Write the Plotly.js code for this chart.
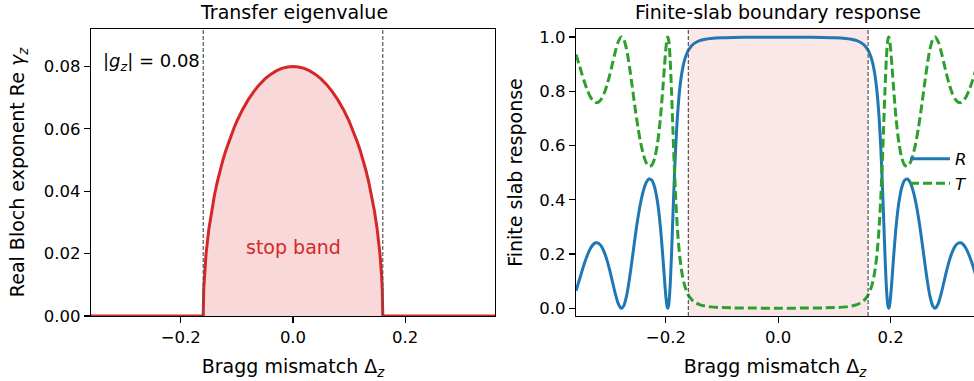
<!DOCTYPE html>
<html>
<head>
<meta charset="utf-8">
<script src="https://cdn.plot.ly/plotly-3.0.1.min.js"></script>
<style>html,body{margin:0;padding:0;background:#fff;}#chart{width:974px;height:381px;}</style>
</head>
<body>
<div id="chart"></div>
<script>
// Left panel: real Bloch exponent vs Bragg mismatch
const deltaLeft = [-0.36, -0.16, -0.159, -0.158, -0.155, -0.15, -0.145, -0.14, -0.135, -0.13, -0.125, -0.12, -0.115, -0.11, -0.105, -0.10, -0.09, -0.08, -0.07, -0.06, -0.05, -0.04, -0.03, -0.02, -0.01, 0,
  0.01, 0.02, 0.03, 0.04, 0.05, 0.06, 0.07, 0.08, 0.09, 0.10, 0.105, 0.11, 0.115, 0.12, 0.125, 0.13, 0.135, 0.14, 0.145, 0.15, 0.155, 0.158, 0.159, 0.16, 0.36];
const reGamma = [0, 0, 0.00893, 0.01261, 0.01984, 0.02784, 0.03382, 0.03873, 0.04294, 0.04664, 0.04994, 0.05292, 0.05562, 0.05809, 0.06036, 0.06245, 0.06614, 0.06928, 0.07194, 0.07416, 0.07599, 0.07746, 0.07858, 0.07937, 0.07984, 0.08,
  0.07984, 0.07937, 0.07858, 0.07746, 0.07599, 0.07416, 0.07194, 0.06928, 0.06614, 0.06245, 0.06036, 0.05809, 0.05562, 0.05292, 0.04994, 0.04664, 0.04294, 0.03873, 0.03382, 0.02784, 0.01984, 0.01261, 0.00893, 0, 0];

// Right panel: finite-slab reflection R and transmission T
const deltaRight = [-0.36, -0.355, -0.35, -0.345, -0.34, -0.335, -0.33, -0.325, -0.32, -0.315, -0.31, -0.305, -0.30, -0.295, -0.29, -0.285, -0.28, -0.2789, -0.275, -0.27, -0.265, -0.26, -0.255, -0.25, -0.245, -0.24, -0.235, -0.23, -0.225, -0.22, -0.215, -0.21, -0.205, -0.2025, -0.2, -0.1975, -0.1966, -0.195, -0.1925, -0.19, -0.1875, -0.185, -0.1825, -0.18, -0.1775, -0.175, -0.1725, -0.17, -0.1675, -0.165, -0.1625, -0.16, -0.155, -0.15, -0.14, -0.13, -0.12, -0.10, -0.08, -0.04, 0,
  0.04, 0.08, 0.10, 0.12, 0.13, 0.14, 0.15, 0.155, 0.16, 0.1625, 0.165, 0.1675, 0.17, 0.1725, 0.175, 0.1775, 0.18, 0.1825, 0.185, 0.1875, 0.19, 0.1925, 0.195, 0.1966, 0.1975, 0.2, 0.2025, 0.205, 0.21, 0.215, 0.22, 0.225, 0.23, 0.235, 0.24, 0.245, 0.25, 0.255, 0.26, 0.265, 0.27, 0.275, 0.2789, 0.28, 0.285, 0.29, 0.295, 0.30, 0.305, 0.31, 0.315, 0.32, 0.325, 0.33, 0.335, 0.34, 0.345, 0.35, 0.355, 0.36];
const reflR = [0.0644, 0.0978, 0.1326, 0.1658, 0.1948, 0.2181, 0.2339, 0.2414, 0.2399, 0.2288, 0.2083, 0.1784, 0.1403, 0.0970, 0.0536, 0.0183, 0.0006, 0.0, 0.0089, 0.0455, 0.1068, 0.1812, 0.2587, 0.3297, 0.3888, 0.4337, 0.4635, 0.4768, 0.4722, 0.4463, 0.3934, 0.3054, 0.1786, 0.1070, 0.0424, 0.0034, 0.0, 0.0118, 0.0797, 0.1979, 0.3394, 0.4770, 0.5950, 0.6889, 0.7607, 0.8147, 0.8553, 0.8859, 0.9089, 0.9266, 0.9402, 0.9509, 0.9660, 0.9757, 0.9866, 0.9919, 0.9948, 0.9975, 0.9985, 0.9993, 0.9994,
  0.9993, 0.9985, 0.9975, 0.9948, 0.9919, 0.9866, 0.9757, 0.9660, 0.9509, 0.9402, 0.9266, 0.9089, 0.8859, 0.8553, 0.8147, 0.7607, 0.6889, 0.5950, 0.4770, 0.3394, 0.1979, 0.0797, 0.0118, 0.0, 0.0034, 0.0424, 0.1070, 0.1786, 0.3054, 0.3934, 0.4463, 0.4722, 0.4768, 0.4635, 0.4337, 0.3888, 0.3297, 0.2587, 0.1812, 0.1068, 0.0455, 0.0089, 0.0, 0.0006, 0.0183, 0.0536, 0.0970, 0.1403, 0.1784, 0.2083, 0.2288, 0.2399, 0.2414, 0.2339, 0.2181, 0.1948, 0.1658, 0.1326, 0.0978, 0.0644];
const transT = [0.9356, 0.9022, 0.8674, 0.8342, 0.8052, 0.7819, 0.7661, 0.7586, 0.7601, 0.7712, 0.7917, 0.8216, 0.8597, 0.9030, 0.9464, 0.9817, 0.9994, 1.0, 0.9911, 0.9545, 0.8932, 0.8188, 0.7413, 0.6703, 0.6112, 0.5663, 0.5365, 0.5232, 0.5278, 0.5537, 0.6066, 0.6946, 0.8214, 0.8930, 0.9576, 0.9966, 1.0, 0.9882, 0.9203, 0.8021, 0.6606, 0.5230, 0.4050, 0.3111, 0.2393, 0.1853, 0.1447, 0.1141, 0.0911, 0.0734, 0.0598, 0.0491, 0.0340, 0.0243, 0.0134, 0.0081, 0.0052, 0.0025, 0.0015, 0.0007, 0.0006,
  0.0007, 0.0015, 0.0025, 0.0052, 0.0081, 0.0134, 0.0243, 0.0340, 0.0491, 0.0598, 0.0734, 0.0911, 0.1141, 0.1447, 0.1853, 0.2393, 0.3111, 0.4050, 0.5230, 0.6606, 0.8021, 0.9203, 0.9882, 1.0, 0.9966, 0.9576, 0.8930, 0.8214, 0.6946, 0.6066, 0.5537, 0.5278, 0.5232, 0.5365, 0.5663, 0.6112, 0.6703, 0.7413, 0.8188, 0.8932, 0.9545, 0.9911, 1.0, 0.9994, 0.9817, 0.9464, 0.9030, 0.8597, 0.8216, 0.7917, 0.7712, 0.7601, 0.7586, 0.7661, 0.7819, 0.8052, 0.8342, 0.8674, 0.9022, 0.9356];

const bandEdges = [-0.16, 0.16];
const couplingLabel = '|<i>g</i><sub><i>z</i></sub>| = 0.08';
const xTicks = [-0.2, 0.0, 0.2];
const xTickText = ['\u22120.2', '0.0', '0.2'];
const yTicksLeft = [0, 0.02, 0.04, 0.06, 0.08];
const yTicksLeftText = ['0.00', '0.02', '0.04', '0.06', '0.08'];
const yTicksRight = [0, 0.2, 0.4, 0.6, 0.8, 1.0];
const yTicksRightText = ['0.0', '0.2', '0.4', '0.6', '0.8', '1.0'];

const FONT = 'DejaVu Sans, sans-serif';
const W = 974, H = 381;
const px = v => v / W;
const py = v => 1 - v / H;

const traces = [
  {x: deltaLeft, y: reGamma, type: 'scatter', mode: 'lines', xaxis: 'x', yaxis: 'y',
   line: {color: '#d62728', width: 3}, fill: 'tozeroy', fillcolor: 'rgba(214,39,40,0.18)', showlegend: false, hoverinfo: 'skip'},
  {x: deltaRight, y: reflR, type: 'scatter', mode: 'lines', xaxis: 'x2', yaxis: 'y2', name: '<i>R</i>',
   line: {color: '#1f77b4', width: 3, shape: 'spline', smoothing: 0.8}},
  {x: deltaRight, y: transT, type: 'scatter', mode: 'lines', xaxis: 'x2', yaxis: 'y2', name: '<i>T</i>',
   line: {color: '#2ca02c', width: 3, dash: '9px,4px', shape: 'spline', smoothing: 0.8}}
];

const axisCommon = {
  showgrid: false, zeroline: false, showline: true, linecolor: '#000', linewidth: 1.2,
  ticks: 'outside', ticklen: 6, tickwidth: 1.2, tickcolor: '#000',
  tickfont: {family: FONT, size: 16.5, color: '#000'}, tickmode: 'array', automargin: false
};
const titleFont = {family: FONT, size: 19, color: '#000'};

const shapes = [];
bandEdges.forEach(e => {
  shapes.push({type: 'line', xref: 'x', yref: 'y domain', x0: e, x1: e, y0: 0, y1: 1,
    line: {color: '#555', width: 1.2, dash: '4px,2px'}, layer: 'above'});
});
shapes.push({type: 'rect', xref: 'x2', yref: 'y2 domain', x0: bandEdges[0], x1: bandEdges[1], y0: 0, y1: 1,
  fillcolor: 'rgba(214,39,40,0.11)', line: {width: 0}, layer: 'below'});
bandEdges.forEach(e => {
  shapes.push({type: 'line', xref: 'x2', yref: 'y2 domain', x0: e, x1: e, y0: 0, y1: 1,
    line: {color: '#555', width: 1.2, dash: '4px,2px'}, layer: 'above'});
});

const annFont = s => ({family: FONT, size: s, color: '#000'});
const annotations = [
  {text: 'Transfer eigenvalue', xref: 'paper', yref: 'paper', x: px(294), y: py(12), showarrow: false, xanchor: 'center', yanchor: 'middle', font: annFont(19)},
  {text: 'Finite-slab boundary response', xref: 'paper', yref: 'paper', x: px(778.3), y: py(12), showarrow: false, xanchor: 'center', yanchor: 'middle', font: annFont(19)},
  {text: couplingLabel, xref: 'paper', yref: 'paper', x: px(101), y: py(62), showarrow: false, xanchor: 'left', yanchor: 'middle', font: annFont(18)},
  {text: 'stop band', xref: 'x', yref: 'y', x: 0, y: 0.0222, showarrow: false, xanchor: 'center', yanchor: 'middle', font: {family: FONT, size: 19, color: '#d62728'}}
];

const layout = {
  width: W, height: H, autosize: false,
  margin: {l: 0, r: 0, t: 0, b: 0, pad: 0},
  paper_bgcolor: '#fff', plot_bgcolor: 'rgba(0,0,0,0)',
  font: {family: FONT, color: '#000'},
  xaxis: Object.assign({}, axisCommon, {domain: [px(91), px(495)], range: [-0.36, 0.36], mirror: true, tickvals: xTicks, ticktext: xTickText, anchor: 'y',
    title: {text: 'Bragg mismatch \u0394<sub><i>z</i></sub>', font: titleFont, standoff: 13}}),
  yaxis: Object.assign({}, axisCommon, {domain: [1 - 316 / H, 1 - 29 / H], range: [0, 0.092], mirror: true, tickvals: yTicksLeft, ticktext: yTicksLeftText, anchor: 'x',
    title: {text: 'Real Bloch exponent Re <i>\u03b3</i><sub><i>z</i></sub>', font: titleFont, standoff: 14}}),
  xaxis2: Object.assign({}, axisCommon, {domain: [px(576), 1], range: [-0.36, 0.3485], mirror: true, tickvals: xTicks, ticktext: xTickText, anchor: 'y2',
    title: {text: 'Bragg mismatch \u0394<sub><i>z</i></sub>', font: titleFont, standoff: 13}}),
  yaxis2: Object.assign({}, axisCommon, {domain: [1 - 316 / H, 1 - 29 / H], range: [-0.0284, 1.0295], mirror: false, tickvals: yTicksRight, ticktext: yTicksRightText, anchor: 'x2',
    title: {text: 'Finite slab response', font: titleFont, standoff: 11}}),
  showlegend: true,
  legend: {x: px(905), y: py(171), xanchor: 'left', yanchor: 'middle', bgcolor: 'rgba(0,0,0,0)', borderwidth: 0,
    font: {family: FONT, size: 16.5, color: '#000'}, itemwidth: 40, tracegroupgap: 0},
  shapes: shapes,
  annotations: annotations
};

Plotly.newPlot('chart', traces, layout, {staticPlot: true, displayModeBar: false});
</script>
</body>
</html>
